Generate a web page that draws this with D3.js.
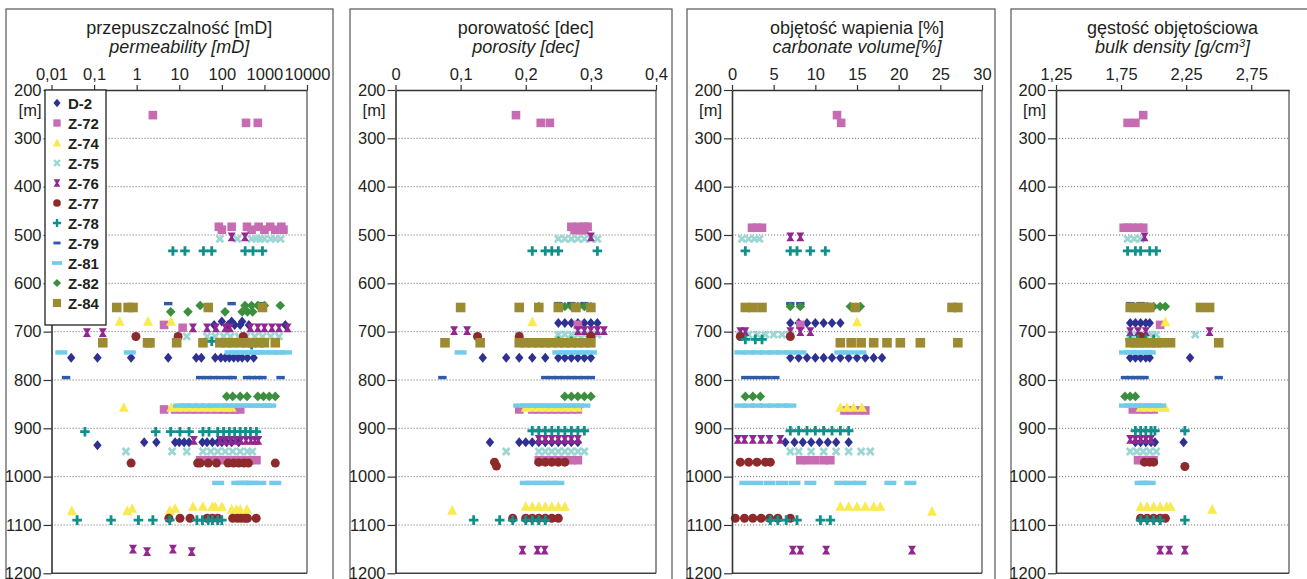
<!DOCTYPE html>
<html>
<head>
<meta charset="utf-8">
<script src="https://cdn.jsdelivr.net/npm/d3@7"></script>
<style>
  body { margin: 0; background: #fff; }
  text { font-family: "Liberation Sans", Arial, sans-serif; fill: #231f20; }
</style>
</head>
<body>
<script>
// wells (legend order = drawing order)
const wells = ["D-2", "Z-72", "Z-74", "Z-75", "Z-76", "Z-77", "Z-78", "Z-79", "Z-81", "Z-82", "Z-84"];
const wellColors = ["#2e3192", "#c76cb2", "#f9ea4f", "#9dd7d3", "#92278f", "#8d2a2c", "#0f908b", "#2f5aa7", "#70cce8", "#3b8f3f", "#9c8b30"];

const depthTicks = [200, 300, 400, 500, 600, 700, 800, 900, 1000, 1100, 1200];
const permTicks = [0.01, 0.1, 1, 10, 100, 1000, 10000];
const poroTicks = [0, 0.1, 0.2, 0.3, 0.4];
const carbTicks = [0, 5, 10, 15, 20, 25, 30];
const densTicks = [1.25, 1.75, 2.25, 2.75];

// [well, depth m, values at that depth]
const permeability = [
  ["D-2", 679, [100, 170, 300]],
  ["D-2", 686, [66, 140, 200, 270, 430, 3100]],
  ["D-2", 754, [0.029, 0.12, 0.74, 5.5, 25, 33, 70, 95, 120, 150, 190, 240, 300, 400, 560]],
  ["D-2", 935, [0.12]],
  ["D-2", 929, [1.5, 2.9, 8, 10, 13, 17, 35, 45, 60, 80, 100, 130, 170, 250]],
  ["Z-72", 252, [2.4]],
  ["Z-72", 268, [370, 700]],
  ["Z-72", 483, [85, 170, 390, 730, 1370, 2500]],
  ["Z-72", 489, [100, 500, 1000, 1800, 2800]],
  ["Z-72", 686, [4.4]],
  ["Z-72", 692, [12]],
  ["Z-72", 861, [4.4, 8, 12, 18, 26, 38, 55, 80, 110, 150, 200, 270]],
  ["Z-72", 966, [31, 45, 65, 100, 140, 200, 300, 450, 650]],
  ["Z-74", 679, [0.4, 1.85, 6.4]],
  ["Z-74", 857, [0.5, 6.5, 9, 12, 17, 24, 34, 48, 68, 95, 130, 170]],
  ["Z-74", 1071, [0.03, 0.6]],
  ["Z-74", 1066, [0.78, 8]],
  ["Z-74", 1070, [6]],
  ["Z-74", 1062, [21, 36, 60, 70, 100]],
  ["Z-74", 1068, [170, 220, 270, 390]],
  ["Z-75", 508, [90, 230, 500, 650, 800, 1000, 1400, 1800, 2400]],
  ["Z-75", 710, [15, 45, 70, 110, 160, 250, 380, 600, 900, 1400, 2200]],
  ["Z-75", 948, [0.56, 6.8, 15, 36, 55, 80, 120, 180, 270, 400, 520]],
  ["Z-76", 504, [170, 350]],
  ["Z-76", 702, [0.068, 0.16]],
  ["Z-76", 692, [21, 45, 73, 120, 155, 470, 700, 1000, 1500, 2200, 3500]],
  ["Z-76", 925, [22, 90, 120, 160, 210, 280, 370, 480, 600, 720]],
  ["Z-76", 1150, [0.82, 7.1]],
  ["Z-76", 1155, [1.75, 19.6]],
  ["Z-77", 710, [0.96, 9.4, 320]],
  ["Z-77", 972, [0.74, 27, 31, 48, 75, 140, 190, 250, 330, 420, 1800]],
  ["Z-77", 1086, [5.7, 10.4, 17.9, 45, 60, 80, 180, 230, 280, 350, 400, 640]],
  ["Z-78", 533, [7.1, 13.6, 37, 58, 353, 540, 900]],
  ["Z-78", 720, [58]],
  ["Z-78", 727, [500]],
  ["Z-78", 907, [0.061, 2.8, 6.3, 10.4, 17, 36, 50, 80, 110, 150, 200, 270, 360, 470, 650]],
  ["Z-78", 1090, [0.04, 0.25, 1.1, 2.4, 6, 26, 35, 48, 60, 80, 100]],
  ["Z-79", 642, [5.5, 170, 800]],
  ["Z-79", 795, [0.022, 31, 45, 62, 90, 140, 180, 390, 500, 700, 900, 2400]],
  ["Z-81", 743, [0.017, 0.69, 160, 220, 300, 400, 550, 750, 1000, 1600, 2200, 3200]],
  ["Z-81", 853, [10, 14, 20, 30, 45, 65, 95, 140, 200, 280, 400, 560, 800, 1100, 1370]],
  ["Z-81", 1013, [82, 230, 300, 400, 500, 800, 1800]],
  ["Z-82", 646, [31, 350, 500, 700, 1000, 2360]],
  ["Z-82", 659, [6.3, 16, 119, 300, 400, 530]],
  ["Z-82", 834, [130, 180, 270, 390, 700, 950, 1300, 1800]],
  ["Z-84", 650, [0.34, 0.63, 0.82, 48, 900]],
  ["Z-84", 723, [0.16, 1.8, 2.05, 8.7, 36, 90, 130, 180, 270, 380, 520, 750, 1000, 1800]]
];

const porosity = [
  ["D-2", 682, [0.25, 0.26, 0.27, 0.28, 0.29, 0.30, 0.31]],
  ["D-2", 754, [0.134, 0.17, 0.19, 0.21, 0.23, 0.25, 0.26, 0.27, 0.28, 0.29, 0.30]],
  ["D-2", 929, [0.145, 0.19, 0.20, 0.21, 0.22, 0.23, 0.24, 0.25, 0.26, 0.27, 0.28]],
  ["Z-72", 252, [0.185]],
  ["Z-72", 268, [0.223, 0.237]],
  ["Z-72", 483, [0.27, 0.28, 0.29, 0.295]],
  ["Z-72", 490, [0.275, 0.285, 0.29]],
  ["Z-72", 686, [0.28]],
  ["Z-72", 861, [0.19, 0.21, 0.22, 0.23, 0.24, 0.25, 0.26, 0.27, 0.28]],
  ["Z-72", 966, [0.22, 0.23, 0.24, 0.25, 0.26, 0.27, 0.28]],
  ["Z-74", 680, [0.21]],
  ["Z-74", 857, [0.20, 0.21, 0.22, 0.23, 0.24, 0.25, 0.26, 0.27, 0.28]],
  ["Z-74", 1070, [0.087]],
  ["Z-74", 1062, [0.20, 0.21, 0.22, 0.23, 0.24, 0.25, 0.26]],
  ["Z-75", 508, [0.25, 0.26, 0.27, 0.28, 0.29, 0.30, 0.31]],
  ["Z-75", 706, [0.19, 0.25, 0.26, 0.27, 0.28, 0.29, 0.30, 0.31]],
  ["Z-75", 948, [0.17, 0.22, 0.23, 0.24, 0.25, 0.26, 0.27, 0.28, 0.29]],
  ["Z-76", 504, [0.30]],
  ["Z-76", 698, [0.09, 0.11, 0.28, 0.29, 0.30, 0.31, 0.32]],
  ["Z-76", 923, [0.22, 0.23, 0.24, 0.25, 0.26, 0.27, 0.28]],
  ["Z-76", 1152, [0.195, 0.218, 0.229]],
  ["Z-77", 710, [0.126, 0.19, 0.30]],
  ["Z-77", 970, [0.152, 0.22, 0.23, 0.24, 0.25, 0.26]],
  ["Z-77", 978, [0.155]],
  ["Z-77", 1086, [0.18, 0.20, 0.21, 0.22, 0.23, 0.24, 0.25]],
  ["Z-78", 533, [0.21, 0.23, 0.24, 0.25, 0.31]],
  ["Z-78", 720, [0.25, 0.27]],
  ["Z-78", 905, [0.21, 0.22, 0.23, 0.24, 0.25, 0.26, 0.27, 0.28, 0.29]],
  ["Z-78", 1090, [0.12, 0.16, 0.18, 0.20, 0.21, 0.22, 0.23]],
  ["Z-79", 642, [0.25, 0.27, 0.29]],
  ["Z-79", 795, [0.072, 0.23, 0.24, 0.25, 0.26, 0.27, 0.28, 0.29, 0.30]],
  ["Z-81", 743, [0.10, 0.25, 0.26, 0.27, 0.28, 0.29, 0.30]],
  ["Z-81", 853, [0.19, 0.20, 0.21, 0.22, 0.23, 0.24, 0.25, 0.26, 0.27, 0.28, 0.29]],
  ["Z-81", 1013, [0.20, 0.21, 0.22, 0.23, 0.24, 0.25]],
  ["Z-82", 648, [0.22, 0.25, 0.26, 0.27, 0.28, 0.29, 0.30]],
  ["Z-82", 834, [0.26, 0.27, 0.28, 0.29, 0.30]],
  ["Z-84", 650, [0.10, 0.19, 0.22, 0.25, 0.277, 0.30]],
  ["Z-84", 723, [0.076, 0.13, 0.19, 0.20, 0.21, 0.22, 0.23, 0.24, 0.25, 0.26, 0.27, 0.28, 0.29, 0.30]]
];

const carbonate = [
  ["D-2", 682, [7, 8, 9, 10, 11, 12, 13]],
  ["D-2", 754, [7, 8, 9, 10, 11, 12, 13, 14, 15, 16, 17, 18]],
  ["D-2", 929, [6.4, 7.5, 8.5, 9.5, 10.5, 11.5, 12.5, 14]],
  ["Z-72", 252, [12.6]],
  ["Z-72", 268, [13.1]],
  ["Z-72", 485, [2.4, 3, 3.6]],
  ["Z-72", 686, [8.2]],
  ["Z-72", 863, [13.5, 14.3, 15.2, 16]],
  ["Z-72", 966, [8.2, 9, 10, 11, 11.8]],
  ["Z-74", 680, [15]],
  ["Z-74", 857, [13, 13.8, 14.6, 15.6]],
  ["Z-74", 1062, [13, 14, 15, 16, 17, 17.8]],
  ["Z-74", 1072, [24]],
  ["Z-75", 508, [1.2, 2, 2.7, 3.3]],
  ["Z-75", 706, [1, 2, 3, 4, 5, 6, 7]],
  ["Z-75", 948, [7, 8, 9.5, 11, 12.5, 14, 15.5, 16.6]],
  ["Z-76", 504, [7, 8.2]],
  ["Z-76", 700, [1, 1.6, 7, 8.2, 9.4]],
  ["Z-76", 923, [0.7, 1.5, 2.5, 3.5, 4.5, 5.8]],
  ["Z-76", 1152, [7.3, 8.2, 11.3, 21.6]],
  ["Z-77", 710, [1, 7]],
  ["Z-77", 970, [1, 2, 3, 4, 4.6]],
  ["Z-77", 1086, [0.4, 1.5, 2.5, 3.5, 4.5, 5.5, 7]],
  ["Z-78", 533, [1.6, 7, 7.8, 9.4, 11.2]],
  ["Z-78", 716, [1.6, 2.8, 3.6]],
  ["Z-78", 905, [7, 8, 9, 10, 11, 12, 13, 14]],
  ["Z-78", 1090, [4.6, 5.5, 6.5, 7.8, 10.6, 11.8]],
  ["Z-79", 642, [7, 8.2]],
  ["Z-79", 795, [1.6, 2.5, 3.4, 4.2, 5.2]],
  ["Z-81", 743, [1, 2, 3, 4, 5, 6, 7, 8.2, 13, 14, 15.4]],
  ["Z-81", 853, [1, 2, 3, 4, 5, 6, 7]],
  ["Z-81", 1013, [1.6, 3, 4.5, 6, 7.5, 9.4, 13, 14.2, 15.4, 19, 21.4]],
  ["Z-82", 648, [7, 8.2, 14.2, 15.4]],
  ["Z-82", 834, [1.6, 2.5, 3.4]],
  ["Z-84", 650, [1.6, 2.5, 3.6, 14.8, 26.4, 27.1]],
  ["Z-84", 723, [13, 14.3, 15.5, 17, 18.6, 20.2, 22.6, 27.1]]
];

const density = [
  ["D-2", 682, [1.82, 1.86, 1.90, 1.94, 1.97]],
  ["D-2", 754, [1.82, 1.86, 1.90, 1.94, 1.97, 2.28]],
  ["D-2", 929, [1.86, 1.90, 1.94, 1.98, 2.01, 2.23]],
  ["Z-72", 252, [1.92]],
  ["Z-72", 268, [1.80, 1.86]],
  ["Z-72", 485, [1.77, 1.80, 1.84, 1.88, 1.92]],
  ["Z-72", 686, [2.05]],
  ["Z-72", 861, [1.84, 1.90, 1.95, 2.00]],
  ["Z-72", 966, [1.88, 1.92, 1.96, 2.00]],
  ["Z-74", 680, [2.09]],
  ["Z-74", 857, [1.90, 1.95, 2.00, 2.05, 2.09]],
  ["Z-74", 1062, [1.90, 1.95, 2.00, 2.05, 2.10, 2.13]],
  ["Z-74", 1068, [2.45]],
  ["Z-75", 508, [1.80, 1.85, 1.90]],
  ["Z-75", 706, [1.82, 1.87, 1.92, 1.97, 2.02, 2.32]],
  ["Z-75", 948, [1.82, 1.87, 1.92, 1.97, 2.02]],
  ["Z-76", 504, [1.93]],
  ["Z-76", 700, [1.82, 1.88, 1.94, 2.43]],
  ["Z-76", 923, [1.82, 1.86, 1.90, 1.94, 1.98]],
  ["Z-76", 1152, [2.05, 2.12, 2.24]],
  ["Z-77", 710, [1.90]],
  ["Z-77", 970, [1.93, 1.97, 2.00]],
  ["Z-77", 979, [2.24]],
  ["Z-77", 1086, [1.90, 1.95, 2.00, 2.05, 2.09]],
  ["Z-78", 533, [1.80, 1.86, 1.90, 1.97, 2.02]],
  ["Z-78", 716, [1.82, 1.88, 1.94, 2.00]],
  ["Z-78", 905, [1.86, 1.90, 1.94, 1.98, 2.01, 2.24]],
  ["Z-78", 1090, [1.90, 1.95, 2.00, 2.05, 2.24]],
  ["Z-79", 642, [1.82, 1.90]],
  ["Z-79", 795, [1.78, 1.82, 1.86, 1.90, 1.93, 2.50]],
  ["Z-81", 743, [1.78, 1.82, 1.86, 1.90, 1.94, 1.97]],
  ["Z-81", 853, [1.78, 1.82, 1.86, 1.90, 1.94, 1.98, 2.02, 2.05]],
  ["Z-81", 1013, [1.90, 1.93, 1.97]],
  ["Z-82", 648, [1.90, 1.95, 2.00, 2.05, 2.09]],
  ["Z-82", 834, [1.78, 1.82, 1.86]],
  ["Z-84", 650, [1.82, 1.86, 1.90, 1.94, 1.97, 2.36, 2.43]],
  ["Z-84", 723, [1.82, 1.86, 1.90, 1.94, 1.98, 2.02, 2.06, 2.13, 2.50]]
];

// marker shapes
const plusPath = "M-1.4,-4.8h2.8v3.4h3.4v2.8h-3.4v3.4h-2.8v-3.4h-3.4v-2.8h3.4z";
const shapes = {
  "D-2":  { d: "M0,-5L4.2,0L0,5L-4.2,0Z" },
  "Z-72": { d: "M-4.3,-4.3h8.6v8.6h-8.6z" },
  "Z-74": { d: "M0,-5.4L5,4.2H-5Z" },
  "Z-75": { d: plusPath, rot: 45 },
  "Z-76": { d: "M-4,-4.4h8l-2.7,4.4l2.7,4.4h-8l2.7,-4.4z" },
  "Z-77": { d: d3.symbol(d3.symbolCircle, 64)() },
  "Z-78": { d: plusPath },
  "Z-79": { d: "M-4.2,-1.7h8.4v3.4h-8.4z" },
  "Z-81": { d: "M-6,-2.2h12v4.4h-12z" },
  "Z-82": { d: "M0,-4.8L4.8,0L0,4.8L-4.8,0Z" },
  "Z-84": { d: "M-4.8,-4.8h9.6v9.6h-9.6z" }
};
const colorOf = d3.scaleOrdinal().domain(wells).range(wellColors);

const comma = v => String(v).replace(".", ",");

var width = 1307, height = 579;
var svg = d3.select("body").append("svg").attr("width", width).attr("height", height);

var y = d3.scaleLinear().domain([200, 1200]).range([90, 573.3]);

const panels = [
  { t1: "przepuszczalność [mD]", t2: "permeability [mD]", data: permeability, ticks: permTicks,
    frame: [6, 333], x: d3.scaleLog().domain([0.01, 10000]).range([51.5, 307]) },
  { t1: "porowatość [dec]", t2: "porosity [dec]", data: porosity, ticks: poroTicks,
    frame: [350, 672], x: d3.scaleLinear().domain([0, 0.4]).range([395.5, 656]) },
  { t1: "objętość wapienia [%]", t2: "carbonate volume[%]", data: carbonate, ticks: carbTicks,
    frame: [687, 995], x: d3.scaleLinear().domain([0, 30]).range([732, 982]) },
  { t1: "gęstość objętościowa", t2: "bulk density [g/cm", sup: "3", t2end: "]", data: density, ticks: densTicks,
    frame: [1011, 1340], x: d3.scaleLinear().domain([1.25, 3.04]).range([1056, 1289]) }
];

panels.forEach(p => {
  const g = svg.append("g");
  const [x0, x1] = p.x.range();
  const cx = (x0 + x1) / 2;

  // outer frame
  g.append("rect").attr("x", p.frame[0]).attr("y", 9)
    .attr("width", p.frame[1] - p.frame[0]).attr("height", 620)
    .attr("fill", "none").attr("stroke", "#555").attr("stroke-width", 1.2);

  // titles
  g.append("text").attr("x", cx).attr("y", 34).attr("text-anchor", "middle")
    .style("font-size", "18px").text(p.t1);
  const t2 = g.append("text").attr("x", cx).attr("y", 53).attr("text-anchor", "middle")
    .style("font-size", "18px").style("font-style", "italic");
  t2.append("tspan").text(p.t2);
  if (p.sup) {
    t2.append("tspan").attr("dy", -6).style("font-size", "11px").text(p.sup);
    t2.append("tspan").attr("dy", 6).text(p.t2end);
  }

  // grid lines
  g.selectAll(".grid").data(depthTicks.slice(1, -1)).enter().append("line")
    .attr("x1", x0).attr("x2", x1)
    .attr("y1", d => y(d)).attr("y2", d => y(d))
    .attr("stroke", "#7a7a7a").attr("stroke-width", 1).attr("stroke-dasharray", "1.2,1.8");

  // right & bottom border of plot
  g.append("line").attr("x1", x1).attr("x2", x1).attr("y1", y(200)).attr("y2", y(1200))
    .attr("stroke", "#666").attr("stroke-width", 1.4);
  g.append("line").attr("x1", x0).attr("x2", x1).attr("y1", y(1200)).attr("y2", y(1200))
    .attr("stroke", "#444").attr("stroke-width", 1.4);

  // points
  const pts = [];
  p.data.forEach(r => r[2].forEach(v => pts.push({ well: r[0], depth: r[1], value: v })));
  pts.sort((a, b) => wells.indexOf(a.well) - wells.indexOf(b.well));
  g.append("g").selectAll("path").data(pts).enter().append("path")
    .attr("d", d => shapes[d.well].d)
    .attr("transform", d => "translate(" + p.x(d.value) + "," + y(d.depth) + ")" +
      (shapes[d.well].rot ? " rotate(" + shapes[d.well].rot + ")" : ""))
    .attr("fill", d => colorOf(d.well));

  // top axis
  const ax = g.append("g").attr("transform", "translate(0," + y(200) + ")")
    .call(d3.axisTop(p.x).tickValues(p.ticks).tickFormat(comma).tickSize(5).tickSizeOuter(0).tickPadding(5));
  ax.select(".domain").attr("stroke", "#333").attr("stroke-width", 1.4);
  ax.selectAll(".tick line").attr("stroke", "#333").attr("stroke-width", 1.2);
  ax.selectAll("text").style("font-size", "16.5px").attr("fill", "#231f20")
    .style("font-family", "'Liberation Sans', Arial, sans-serif");

  // left axis
  const ay = g.append("g").attr("transform", "translate(" + x0 + ",0)")
    .call(d3.axisLeft(y).tickValues(depthTicks).tickFormat(d3.format("d")).tickSize(8).tickSizeOuter(0).tickPadding(2));
  ay.select(".domain").attr("stroke", "#333").attr("stroke-width", 1.6);
  ay.selectAll(".tick line").attr("stroke", "#333").attr("stroke-width", 1.2);
  ay.selectAll("text").style("font-size", "16.5px").attr("fill", "#231f20")
    .style("font-family", "'Liberation Sans', Arial, sans-serif");

  g.append("text").attr("x", x0 - 10).attr("y", 116).attr("text-anchor", "end")
    .style("font-size", "16.5px").text("[m]");
});

// legend in first panel
var legend = svg.append("g").attr("transform", "translate(45,90)");
legend.append("rect").attr("width", 61).attr("height", 235)
  .attr("fill", "#fff").attr("stroke", "#222").attr("stroke-width", 1.3);
var items = legend.selectAll(".legends").data(wells).enter().append("g").classed("legends", true)
  .attr("transform", (d, i) => "translate(0," + (13 + i * 20) + ")");
items.append("path")
  .attr("d", d => shapes[d].d)
  .attr("transform", d => "translate(12,0)" + (shapes[d].rot ? " rotate(" + shapes[d].rot + ")" : "") + " scale(0.85)")
  .attr("fill", d => colorOf(d));
items.append("text").attr("x", 23).attr("y", 5.5)
  .style("font-size", "15px").style("font-weight", "bold").text(d => d);
</script>
</body>
</html>
